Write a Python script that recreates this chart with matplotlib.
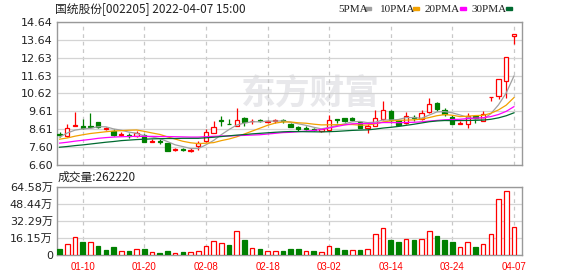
import matplotlib
matplotlib.use("Agg")
import matplotlib.pyplot as plt
from matplotlib.patches import Rectangle
import numpy as np
import pandas as pd

# daily candles, 2022-01-05 .. 2022-04-07 (60 trading days)
opens = [8.35, 8.23, 8.79, 8.80, 8.80, 9.02, 8.62, 8.50, 8.28, 8.28,
         8.22, 8.30, 7.90, 7.95, 7.82, 7.44, 7.52, 7.40, 7.66, 7.93,
         8.42, 9.12, 8.89, 8.80, 9.25, 9.07, 9.15, 9.02, 9.08, 9.12,
         8.93, 8.74, 8.68, 8.62, 8.52, 8.58, 9.16, 9.22, 9.25, 8.99,
         8.70, 8.82, 9.17, 9.63, 9.12, 8.94, 9.32, 9.20, 9.56, 10.10,
         9.70, 9.30, 8.92, 8.88, 9.35, 9.07, 10.40, 10.50, 11.35, 13.86]
highs = [8.46, 8.92, 9.58, 9.17, 9.55, 9.04, 8.76, 8.62, 8.45, 8.38,
         8.50, 8.35, 8.05, 8.05, 7.84, 7.58, 7.58, 7.56, 7.97, 8.62,
         9.05, 9.35, 9.16, 9.83, 9.30, 9.18, 9.21, 9.15, 9.18, 9.18,
         8.98, 8.80, 8.78, 8.70, 8.62, 9.40, 9.17, 9.27, 9.30, 9.03,
         8.88, 9.68, 10.20, 9.70, 9.16, 9.56, 9.42, 9.68, 10.34, 10.15,
         9.78, 9.40, 9.08, 9.50, 9.38, 9.62, 10.42, 11.46, 12.68, 13.97]
lows = [8.18, 8.17, 8.79, 8.61, 8.70, 8.68, 8.58, 8.25, 8.24, 8.14,
        8.15, 7.90, 7.88, 7.78, 7.36, 7.40, 7.36, 7.33, 7.46, 7.90,
        8.40, 8.77, 8.88, 8.77, 8.77, 8.88, 9.00, 8.97, 8.98, 8.98,
        8.72, 8.50, 8.54, 8.50, 8.48, 8.52, 8.98, 9.02, 9.08, 8.68,
        8.38, 8.80, 9.15, 8.98, 8.78, 8.88, 9.08, 9.15, 9.52, 9.66,
        9.35, 8.88, 8.88, 8.66, 8.95, 9.05, 10.22, 10.30, 10.38, 13.38]
closes = [8.28, 8.69, 8.87, 8.70, 8.76, 8.74, 8.68, 8.27, 8.33, 8.22,
          8.42, 7.92, 7.97, 7.89, 7.40, 7.50, 7.42, 7.44, 7.86, 8.44,
          8.74, 9.05, 8.88, 9.12, 9.00, 9.10, 9.05, 9.07, 9.12, 9.05,
          8.74, 8.60, 8.64, 8.58, 8.60, 9.15, 9.14, 9.10, 9.15, 8.70,
          8.82, 9.27, 9.72, 9.12, 8.86, 9.36, 9.26, 9.55, 10.01, 9.74,
          9.45, 8.91, 8.95, 9.35, 9.22, 9.47, 10.42, 11.46, 12.68, 13.97]
volumes = [57000, 101000, 168000, 123000, 120000, 85000, 47500, 76000, 35000, 38000,
           54000, 57000, 25000, 19000, 38000, 19000, 28500, 25000, 35000, 82000,
           130000, 114000, 95000, 225000, 142500, 63000, 57000, 35000, 35000, 38000,
           57000, 57000, 35000, 38000, 25000, 82000, 66500, 47500, 44000, 44000,
           54000, 196000, 253000, 142500, 123000, 149000, 142500, 149000, 225000, 180000,
           142500, 123000, 73000, 120000, 76000, 101000, 196000, 529000, 608000, 262220]
vol_up = "grrgrgggrgrgrggrgrrrrrgrgrgrrgggrgrrggrgrrrggrgrrgggrrgrrrrr"

# moving-average values before a full window is available
ma5_head = [8.17, 8.40, 8.56, 8.63]
ma10_head = [8.05, 8.12, 8.22, 8.30, 8.37, 8.42, 8.47, 8.51, 8.53]
ma20_head = [7.83, 7.88, 7.94, 7.99, 8.04, 8.10, 8.14, 8.17, 8.19, 8.20,
             8.21, 8.21, 8.21, 8.20, 8.20, 8.19, 8.18, 8.17, 8.17]
ma30_head = [7.60, 7.64, 7.69, 7.73, 7.78, 7.83, 7.88, 7.92, 7.97, 8.00,
             8.03, 8.05, 8.07, 8.08, 8.09, 8.09, 8.10, 8.10, 8.10, 8.13,
             8.16, 8.20, 8.24, 8.28, 8.31, 8.35, 8.38, 8.41, 8.44]

price_ticks = ["6.60", "7.60", "8.61", "9.61", "10.62", "11.63", "12.63", "13.64", "14.64"]
vol_ticks = ["0", "16.15万", "32.29万", "48.44万", "64.58万"]
date_idx = [3, 11, 19, 27, 35, 43, 51, 59]
date_labels = ["01-10", "01-20", "02-08", "02-18", "03-02", "03-14", "03-24", "04-07"]

RED = "#ff0000"
GREEN = "#008000"
GRID = "#d4d4d4"
FRAME = "#999999"
W, H = 578, 276


def fx(x):
    return x / W


def fy(y):
    return 1 - y / H


fig = plt.figure(figsize=(W / 100, H / 100), dpi=100)
ax = fig.add_axes([fx(57), fy(165), (522 - 57) / W, (165 - 22) / H])
axv = fig.add_axes([fx(57), fy(255), (522 - 57) / W, (255 - 187) / H])

x = np.arange(len(closes))
o = np.array(opens)
c = np.array(closes)
up = c >= o
col = np.where(up, RED, GREEN)

# candles
ax.vlines(x, lows, highs, colors=col, lw=0.9, zorder=2)
bottom = np.minimum(o, c)
height = np.maximum(np.abs(c - o), 0.005)
ax.bar(x, height, bottom=bottom, width=0.56,
       color=np.where(up, "white", GREEN), edgecolor=col, linewidth=0.9, zorder=3)

# moving averages
s = pd.Series(closes)
ma_specs = [(5, ma5_head, "#a0a0a0"), (10, ma10_head, "#f2a100"),
            (20, ma20_head, "#ff00ff"), (30, ma30_head, "#006a30")]
for n, head, color in ma_specs:
    ma = s.rolling(n).mean().to_numpy()
    ma[:len(head)] = head
    ax.plot(x, ma, color=color, lw=0.9, zorder=4)

ax.set_xlim(-0.34, 60.05)
ax.set_ylim(6.60, 14.64)
ax.set_yticks(np.linspace(6.60, 14.64, 9))
ax.set_yticklabels(price_ticks)
ax.set_xticks(date_idx)
ax.set_xticklabels([])

# volume
vcol = [RED if v == "r" else GREEN for v in vol_up]
vface = ["white" if v == "r" else GREEN for v in vol_up]
vol_w = np.array(volumes) / 10000.0
axv.bar(x, vol_w, width=0.6, color=vface, edgecolor=vcol, linewidth=0.9, zorder=3)
axv.set_xlim(-0.34, 60.05)
axv.set_ylim(0, 64.58)
axv.set_yticks(np.linspace(0, 64.58, 5))
axv.set_yticklabels(vol_ticks, family=["DejaVu Sans", "Noto Sans CJK SC"])
axv.set_xticks(date_idx)
axv.set_xticklabels(date_labels, color=RED, family="Liberation Sans", fontsize=7)

for a in (ax, axv):
    a.set_axisbelow(True)
    a.yaxis.grid(True, color=GRID, lw=0.9)
    a.xaxis.grid(True, color="#c8c8c8", lw=0.9, ls=(0, (3, 3)))
    a.tick_params(length=0, labelsize=8, labelcolor="#222222")
    a.tick_params(axis="y", pad=3)
    for sp in a.spines.values():
        sp.set_color(FRAME)
        sp.set_linewidth(1.0)
axv.tick_params(axis="x", pad=5, labelcolor=RED, labelsize=7)

# watermark
ax.text(fx(310), fy(93), "东方财富", transform=fig.transFigure, ha="center", va="center",
        fontsize=25, fontweight="bold", color="#e8e8eb", family="Noto Sans CJK SC", zorder=0.1)

# title and volume caption
fig.text(fx(55), fy(9), "国统股份[002205] 2022-04-07 15:00", ha="left", va="center",
         fontsize=8.5, color="#222222", family=["Noto Sans CJK SC", "DejaVu Sans"])
fig.text(fx(58), fy(177.5), "成交量:%d" % volumes[-1], ha="left", va="center",
         fontsize=8.5, color="#222222", family=["Noto Sans CJK SC", "DejaVu Sans"])

# legend
legend_items = ["5PMA", "10PMA", "20PMA", "30PMA"]
legend_x = [338.5, 379.5, 425, 471]
legend_bar_x = [365, 413, 460, 505.5]
for (n, head, color), label, tx, bx in zip(ma_specs, legend_items, legend_x, legend_bar_x):
    fig.text(fx(tx), fy(9), label, ha="left", va="center", fontsize=8,
             color="#222222", family="Liberation Serif")
    fig.patches.append(Rectangle((fx(bx), fy(10)), 6 / W, 2.5 / H, color=color,
                                 transform=fig.transFigure, figure=fig))

fig.savefig("out.png", dpi=100)
